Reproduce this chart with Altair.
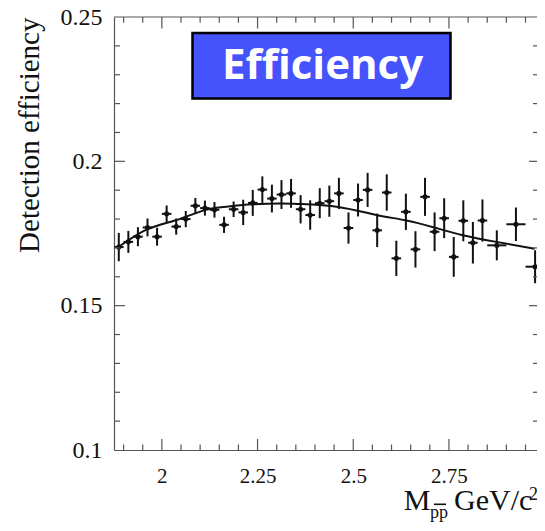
import altair as alt
import pandas as pd

# ---- data ----
bin_edges = [1.875, 1.9, 1.925, 1.95, 1.975, 2.0, 2.025, 2.05, 2.075, 2.1,
             2.125, 2.15, 2.175, 2.2, 2.225, 2.25, 2.275, 2.3, 2.325, 2.35,
             2.375, 2.4, 2.425, 2.45, 2.475, 2.5, 2.525, 2.55, 2.575, 2.6,
             2.625, 2.65, 2.675, 2.7, 2.725, 2.75, 2.775, 2.8, 2.825, 2.85,
             2.9, 2.95, 3.0]
efficiency = [0.1703, 0.1721, 0.1739, 0.1771, 0.1739, 0.1818, 0.1774, 0.1800, 0.1846, 0.1838,
              0.1832, 0.1780, 0.1834, 0.1823, 0.1856, 0.1902, 0.1871, 0.1885, 0.1889, 0.1834,
              0.1814, 0.1855, 0.1862, 0.1889, 0.1769, 0.1866, 0.1901, 0.1761, 0.1892, 0.1664,
              0.1825, 0.1695, 0.1877, 0.1756, 0.1803, 0.1669, 0.1794, 0.1718, 0.1795, 0.1709,
              0.1782, 0.1635]
errors = [0.0049, 0.0038, 0.0033, 0.0031, 0.0031, 0.0029, 0.0028, 0.0028, 0.0027, 0.0026,
          0.0027, 0.0028, 0.0027, 0.0044, 0.0045, 0.0046, 0.0048, 0.0050, 0.0050, 0.0049,
          0.0051, 0.0052, 0.0054, 0.0054, 0.0054, 0.0057, 0.0059, 0.0058, 0.0063, 0.0061,
          0.0063, 0.0063, 0.0066, 0.0067, 0.0069, 0.0069, 0.0071, 0.0072, 0.0073, 0.0052,
          0.0058, 0.0057]
fit_x = [1.8875, 1.9612, 2.0363, 2.1114, 2.1613, 2.2357, 2.3108, 2.3608, 2.461, 2.5602,
         2.636, 2.7112, 2.7863, 2.8736, 2.9738]
fit_y = [0.1704, 0.1764, 0.1796, 0.1831, 0.1842, 0.1851, 0.1854, 0.1852, 0.1842, 0.1814,
         0.1796, 0.1771, 0.1744, 0.1721, 0.1697]

x_major = [2.0, 2.25, 2.5, 2.75]
x_minor = [1.9, 1.95, 2.05, 2.1, 2.15, 2.2, 2.3, 2.35, 2.4, 2.45, 2.55, 2.6, 2.65,
           2.7, 2.8, 2.85, 2.9, 2.95]
y_major = [0.15, 0.2]
y_minor = [0.11, 0.12, 0.13, 0.14, 0.16, 0.17, 0.18, 0.19, 0.21, 0.22, 0.23, 0.24]
x_labels = [2.0, 2.25, 2.5, 2.75, 3.0]
y_labels = [0.1, 0.15, 0.2, 0.25]

X_DOMAIN = [1.875, 2.98]
Y_DOMAIN = [0.1, 0.25]
W, H = 423, 433
AX = "#555555"
INK = "#111111"
SERIF = "Liberation Serif"

pts = pd.DataFrame({
    "lo": bin_edges[:-1],
    "hi": bin_edges[1:],
    "eff": efficiency,
    "err": errors,
})
pts["x"] = (pts["lo"] + pts["hi"]) / 2
pts["ylo"] = pts["eff"] - pts["err"]
pts["yhi"] = pts["eff"] + pts["err"]

fit = pd.DataFrame({"x": fit_x, "y": fit_y})
one = pd.DataFrame({"k": [0]})

xs = alt.Scale(domain=X_DOMAIN, nice=False, zero=False)
ys = alt.Scale(domain=Y_DOMAIN, nice=False, zero=False)

base = alt.Chart(pts)

points = base.mark_circle(size=26, color=INK, opacity=1).encode(
    x=alt.X("x:Q", scale=xs, axis=alt.Axis(
        values=x_labels, labelExpr="datum.value + ''", title=None, grid=False,
        ticks=False, tickSize=0, domain=True, domainColor=AX, domainWidth=1.2,
        labelFont=SERIF, labelFontSize=21, labelColor=INK, labelPadding=15,
        labelFlush=False, labelOverlap=False)),
    y=alt.Y("eff:Q", scale=ys, axis=alt.Axis(
        values=y_labels, labelExpr="datum.value + ''", grid=False, ticks=False,
        tickSize=0, domain=True, domainColor=AX, domainWidth=1.2,
        labelFont=SERIF, labelFontSize=24, labelColor=INK, labelPadding=12,
        labelFlush=False, labelOverlap=False, labelBaseline="middle",
        title="Detection efficiency", titleFont=SERIF, titleFontSize=29,
        titleFontWeight="normal", titleColor=INK, titleAngle=270,
        titleAlign="right", titleBaseline="alphabetic", titleX=-76, titleY=0)),
)

yerr = base.mark_rule(color=INK, strokeWidth=2).encode(
    x=alt.X("x:Q", scale=xs), y=alt.Y("ylo:Q", scale=ys), y2="yhi:Q")
xerr = base.mark_rule(color=INK, strokeWidth=2).encode(
    x=alt.X("lo:Q", scale=xs), x2="hi:Q", y=alt.Y("eff:Q", scale=ys))

curve = alt.Chart(fit).mark_line(color=INK, strokeWidth=2, interpolate="natural").encode(
    x=alt.X("x:Q", scale=xs), y=alt.Y("y:Q", scale=ys))

# ROOT-style inward ticks on all four sides
xmaj = pd.DataFrame({"v": x_major})
xmin = pd.DataFrame({"v": x_minor})
ymaj = pd.DataFrame({"v": y_major})
ymin = pd.DataFrame({"v": y_minor})

def xt(df, y0, y1):
    return alt.Chart(df).mark_rule(color=AX, strokeWidth=1.2).encode(
        x=alt.X("v:Q", scale=xs), y=alt.value(y0), y2=alt.value(y1))

def yt(df, x0, x1):
    return alt.Chart(df).mark_rule(color=AX, strokeWidth=1.2).encode(
        y=alt.Y("v:Q", scale=ys), x=alt.value(x0), x2=alt.value(x1))

ticks = [
    xt(xmaj, H, H - 11), xt(xmin, H, H - 5.5),
    xt(xmaj, 0, 11.5), xt(xmin, 0, 5.7),
    yt(ymaj, 0, 11), yt(ymin, 0, 6),
    yt(ymaj, W - 8, W), yt(ymin, W - 4, W),
]

frame_top = alt.Chart(one).mark_rule(color=AX, strokeWidth=1.2).encode(
    x=alt.value(0), x2=alt.value(W), y=alt.value(0))

# "Efficiency" badge
badge = alt.Chart(one).mark_rect(fill="#4453fb", stroke="#000000", strokeWidth=2.5).encode(
    x=alt.value(78.5), x2=alt.value(336.5), y=alt.value(16), y2=alt.value(81.5))
badge_text = alt.Chart(one).mark_text(
    text="Efficiency", font="Open Sans", fontWeight="bold", fontSize=42,
    color="white", align="center", baseline="alphabetic").encode(
    x=alt.value(208.5), y=alt.value(62))

# x-axis title: M_{p pbar} GeV/c^2 (ROOT style, right aligned)
X0 = 289.7     # left of "M"
MB = 492.7     # baseline of "M" and "GeV/c"
t_M = alt.Chart(one).mark_text(text="M", font=SERIF, fontSize=30, color=INK,
                               align="left", baseline="alphabetic").encode(
    x=alt.value(X0), y=alt.value(MB))
t_pp = alt.Chart(one).mark_text(text="pp", font=SERIF, fontSize=18, color=INK,
                                align="left", baseline="alphabetic").encode(
    x=alt.value(X0 + 26.3), y=alt.value(MB + 8))
t_bar = alt.Chart(one).mark_rule(color=INK, strokeWidth=1.6).encode(
    x=alt.value(X0 + 30.3), x2=alt.value(X0 + 42.3), y=alt.value(MB - 5.4))
t_gev = alt.Chart(one).mark_text(text="GeV/c", font=SERIF, fontSize=30, color=INK,
                                 align="left", baseline="alphabetic").encode(
    x=alt.value(X0 + 50.3), y=alt.value(MB))
t_sq = alt.Chart(one).mark_text(text="2", font=SERIF, fontSize=18, color=INK,
                                align="left", baseline="alphabetic").encode(
    x=alt.value(X0 + 125.3), y=alt.value(MB - 9.7))

chart = alt.layer(
    points, yerr, xerr, curve, *ticks, frame_top,
    badge, badge_text, t_M, t_pp, t_bar, t_gev, t_sq,
).properties(
    width=W, height=H,
    autosize=alt.AutoSizeParams(type="none"),
    padding={"left": 106, "top": 9, "right": 0, "bottom": 73},
    background="white",
).configure_view(stroke="transparent")

chart.save("out.html", embed_options={"renderer": "svg", "actions": False})
